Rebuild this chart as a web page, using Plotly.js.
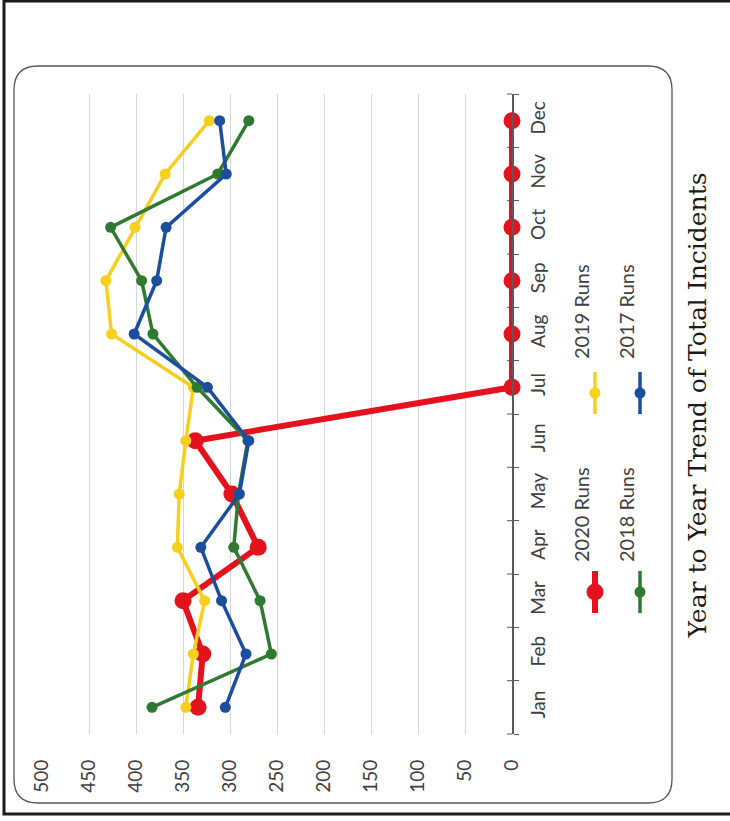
<!DOCTYPE html>
<html>
<head>
<meta charset="utf-8">
<script src="https://cdn.plot.ly/plotly-3.0.1.min.js"></script>
<style>html,body{margin:0;padding:0;background:#fff;}#chart{width:730px;height:821px;}</style>
</head>
<body>
<div id="chart"></div>
<script>
const months = ["Jan","Feb","Mar","Apr","May","Jun","Jul","Aug","Sep","Oct","Nov","Dec"];
const runs2020 = [334, 329, 350, 270, 298, 337, 0, 0, 0, 0, 0, 0];
const runs2019 = [347, 339, 327, 356, 354, 347, 339, 426, 432, 401, 369, 322];
const runs2018 = [383, 256, 268, 296, 291, 281, 335, 382, 394, 427, 313, 280];
const runs2017 = [305, 283, 309, 331, 290, 280, 324, 402, 378, 368, 304, 311];
const seriesNames = ["2020 Runs", "2019 Runs", "2018 Runs", "2017 Runs"];
const valueTicks = [0, 50, 100, 150, 200, 250, 300, 350, 400, 450, 500];
const chartTitle = "Year to Year Trend of Total Incidents";

const W = 730, H = 821, L = 42, R = 218, T = 94, B = 87;
const PW = W - L - R, PH = H - T - B;
const fx = x => (x - L) / PW;
const fy = y => (H - B - y) / PH;
const FONT = "Lato, 'Open Sans', sans-serif";

const colors = ["#E3121D", "#F8CF1C", "#2E7A31", "#1B4E9E"];
const lw = [6, 3.5, 3.5, 3.5];
const ms = [17, 11, 11, 11];
const data = [runs2020, runs2019, runs2018, runs2017].map((v, i) => ({
  type: "scatter", mode: "lines+markers", name: seriesNames[i],
  x: v, y: months,
  line: {color: colors[i], width: lw[i]},
  marker: {color: colors[i], size: ms[i]},
  showlegend: false, cliponaxis: false
}));

const shapes = [];
// outer page frame
shapes.push({type: "rect", xref: "paper", yref: "paper", x0: fx(4), x1: fx(740), y0: fy(1), y1: fy(814),
  line: {color: "#1a1a1a", width: 3}});
// rounded chart frame
const x0 = 14, y0 = 66, x1 = 672, y1 = 803, r = 24;
const p = (x, y) => fx(x) + "," + fy(y);
const path = "M" + p(x0 + r, y0) + " L" + p(x1 - r, y0) + " Q" + p(x1, y0) + " " + p(x1, y0 + r) +
  " L" + p(x1, y1 - r) + " Q" + p(x1, y1) + " " + p(x1 - r, y1) + " L" + p(x0 + r, y1) +
  " Q" + p(x0, y1) + " " + p(x0, y1 - r) + " L" + p(x0, y0 + r) + " Q" + p(x0, y0) + " " + p(x0 + r, y0) + " Z";
shapes.push({type: "path", xref: "paper", yref: "paper", path: path, line: {color: "#555", width: 1.3}});
// inner part of crossing ticks on category axis
for (let k = 0; k <= months.length; k++) {
  shapes.push({type: "line", xref: "paper", yref: "paper", x0: fx(507), x1: 1, y0: k / months.length, y1: k / months.length,
    line: {color: "#595959", width: 1}});
}
// legend symbols
const legPos = [[595, 592, 515], [595, 393, 312], [640, 592, 515], [640, 393, 312]];
const annotations = [];
seriesNames.forEach((n, i) => {
  const [lx, my, ty] = legPos[i];
  shapes.push({type: "line", xref: "paper", yref: "paper", x0: fx(lx), x1: fx(lx), y0: fy(my + 21), y1: fy(my - 21),
    line: {color: colors[i], width: lw[i]}});
  const rr = ms[i] / 2;
  shapes.push({type: "circle", xref: "paper", yref: "paper", x0: fx(lx - rr), x1: fx(lx + rr), y0: fy(my + rr), y1: fy(my - rr),
    fillcolor: colors[i], line: {width: 0}});
  annotations.push({xref: "paper", yref: "paper", x: fx(lx), y: fy(ty), text: n, textangle: -90, showarrow: false,
    font: {family: FONT, size: 20, color: "#404040"}});
});
annotations.push({xref: "paper", yref: "paper", x: fx(713), y: fy(406), text: chartTitle, textangle: -90, showarrow: false,
  font: {family: "'DejaVu Serif', serif", size: 25, color: "#1a1a1a"}});

const layout = {
  width: W, height: H,
  margin: {l: L, r: R, t: T, b: B, pad: 0},
  paper_bgcolor: "#fff", plot_bgcolor: "#fff",
  showlegend: false,
  xaxis: {range: [500, 0], tickvals: valueTicks, ticktext: valueTicks.map(String), tickangle: -90,
    showgrid: true, gridcolor: "#d6d6d6", gridwidth: 1, zeroline: false, showline: false, ticks: "",
    ticklabelstandoff: 21,
    tickfont: {family: FONT, size: 19, color: "#404040"}},
  yaxis: {type: "category", categoryarray: months, range: [-0.5, 11.5], side: "right",
    showline: true, linecolor: "#595959", linewidth: 1.5, ticks: "outside", tickson: "boundaries", ticklen: 5,
    tickcolor: "#595959", showgrid: false, zeroline: false, tickangle: -90, ticklabelstandoff: 9,
    tickfont: {family: FONT, size: 19, color: "#404040"}},
  shapes: shapes, annotations: annotations
};
Plotly.newPlot("chart", data, layout, {displayModeBar: false, staticPlot: true});
</script>
</body>
</html>
